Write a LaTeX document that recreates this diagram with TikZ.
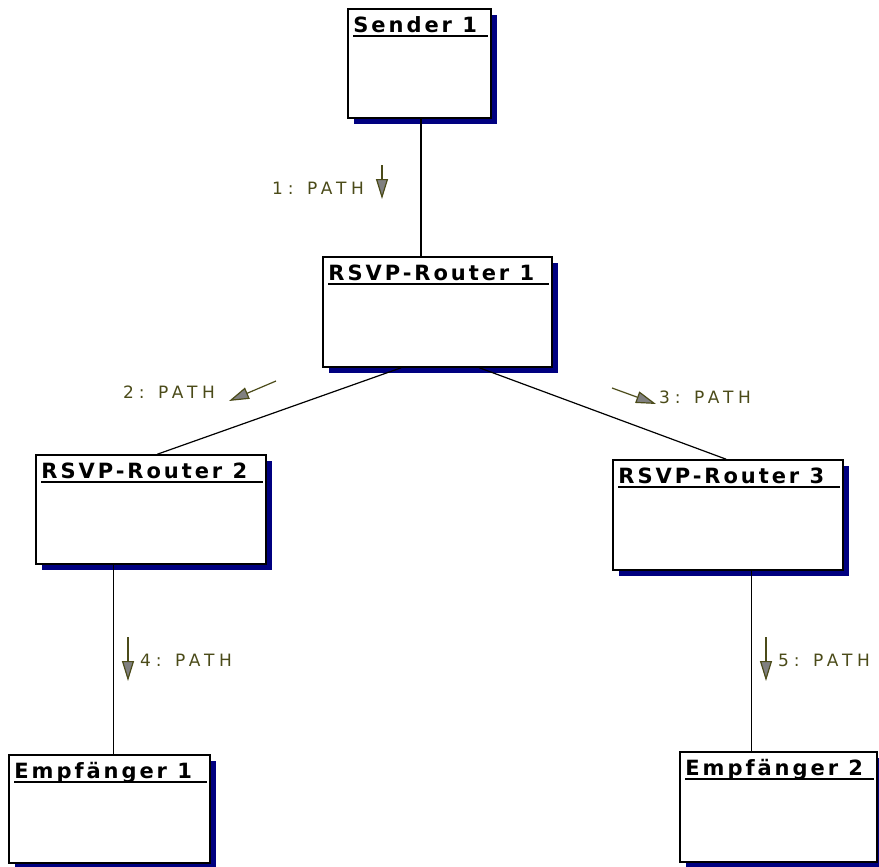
\documentclass[tikz,border=0pt]{standalone}
\usepackage{fontspec}
\usetikzlibrary{arrows.meta,calc,shadows}
\newfontfamily\titlefont{DejaVu Sans Bold}[LetterSpace=14]
\newfontfamily\labfont{DejaVu Sans}[LetterSpace=28]
\definecolor{labcol}{RGB}{75,75,25}
\definecolor{shadowcol}{RGB}{0,0,128}
\definecolor{headcol}{RGB}{128,128,128}
\tikzset{
  objbox/.style={draw, line width=1.5pt, fill=white, inner sep=0pt,
    drop shadow={shadow xshift=6pt, shadow yshift=-6pt, fill=shadowcol, opacity=1}},
  titletext/.style={inner sep=0pt, anchor=base west, font=\titlefont\fontsize{21}{25}\selectfont},
  titleline/.style={line width=1.6pt},
  labtext/.style={inner sep=0pt, anchor=base west, text=labcol, font=\labfont\fontsize{17}{20}\selectfont},
  conn/.style={line width=1.2pt, black},
  msgarrow/.style={labcol, line width=1.2pt, -{Triangle[length=20pt, width=12pt, fill=headcol]}}
}
\begin{document}
\begin{tikzpicture}[x=1pt, y=-1pt]
\useasboundingbox (0,0) rectangle (879,867);
% boxes
\node[objbox, minimum width=143pt, minimum height=109pt] (S) at (419.5,63.5) {};
\node[objbox, minimum width=229pt, minimum height=110pt] (R1) at (437.5,312) {};
\node[objbox, minimum width=230pt, minimum height=109pt] (R2) at (151,509.5) {};
\node[objbox, minimum width=230pt, minimum height=110pt] (R3) at (728,515) {};
\node[objbox, minimum width=201pt, minimum height=108pt] (E1) at (109.5,809) {};
\node[objbox, minimum width=197pt, minimum height=110pt] (E2) at (778.5,807) {};
% titles
\foreach \b/\t in {S/Sender 1, R1/RSVP-Router 1, R2/RSVP-Router 2, R3/RSVP-Router 3, E1/Empfänger 1, E2/Empfänger 2}{
  \node[titletext] (\b t) at ($(\b.north west)+(6,24)$) {\t};
  \draw[titleline] ($(\b.north west)+(6,28)$) -- ($(\b.north east)+(-4,28)$);
}
% connectors
\coordinate (c1) at ($(S.south)+(1.5,0)$);
\draw[conn] (c1) -- (c1 |- R1.north);
\coordinate (c2) at ($(R1.south west)+(79,0)$);
\coordinate (c3) at ($(R2.north west)+(122,0)$);
\draw[conn] (c2) -- (c3);
\coordinate (c4) at ($(R1.south west)+(157,0)$);
\coordinate (c5) at ($(R3.north west)+(114,0)$);
\draw[conn] (c4) -- (c5);
\coordinate (c6) at ($(R2.south west)+(78,0)$);
\draw[conn] (c6) -- (c6 |- E1.north);
\coordinate (c7) at ($(R3.south west)+(139,0)$);
\draw[conn] (c7) -- (c7 |- E2.north);
% message labels
\node[labtext] (l1) at (272,194) {1: PATH};
\node[labtext] (l2) at (123,398) {2: PATH};
\node[labtext] (l3) at (659,403) {3: PATH};
\node[labtext] (l4) at (140,666) {4: PATH};
\node[labtext] (l5) at (778,666) {5: PATH};
% message arrows
\coordinate (a1s) at (382,165); \coordinate (a1e) at (382,199);
\coordinate (a2s) at (276,381); \coordinate (a2e) at (229,401);
\coordinate (a3s) at (612,388); \coordinate (a3e) at (656,404);
\coordinate (a4s) at (128,637); \coordinate (a4e) at (128,681);
\coordinate (a5s) at (766,637); \coordinate (a5e) at (766,681);
\foreach \i in {1,...,5}{\draw[msgarrow] (a\i s) -- (a\i e);}
\end{tikzpicture}
\end{document}
